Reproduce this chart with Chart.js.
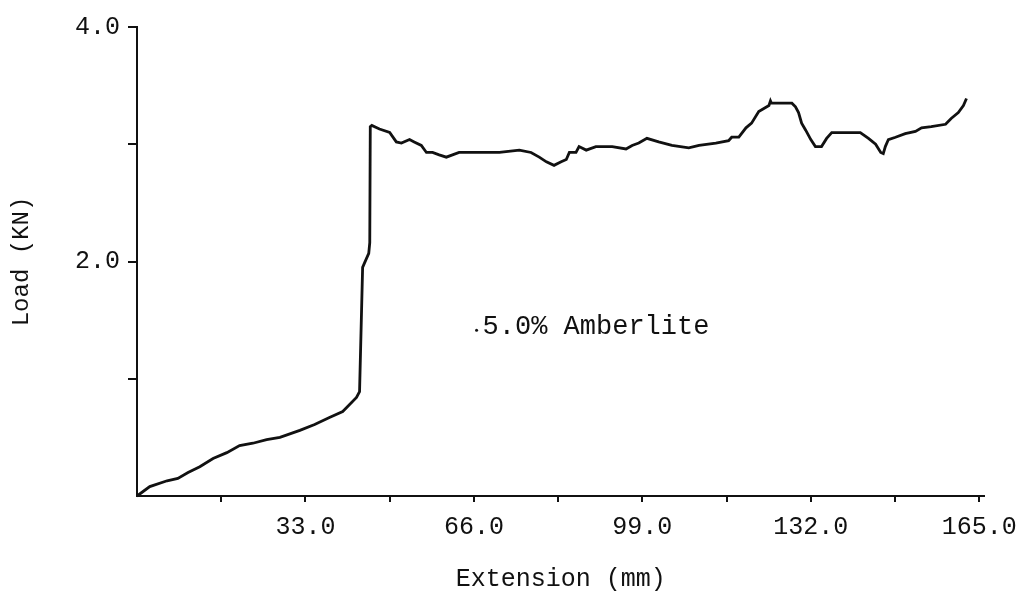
<!DOCTYPE html>
<html>
<head>
<meta charset="utf-8">
<script src="https://cdn.jsdelivr.net/npm/chart.js@4.4.1/dist/chart.umd.min.js"></script>
<style>
  body { margin: 0; background: #fff; }
</style>
</head>
<body>
<canvas id="loadChart" width="1027" height="594"></canvas>
<script>
// Extension (mm) and load (kN)
const extension = [
    0, 2.5, 5.9, 8.0, 10.0, 12.3, 14.9, 17.6, 20.1, 22.7, 25.4, 28.0, 31.9, 34.8, 37.7,
    40.3, 43.0, 43.6, 44.2, 44.6, 45.4, 45.6, 45.7, 46.0, 47.5, 49.5, 50.8, 51.8, 53.4,
    54.3, 55.7, 56.7, 57.9, 59.2, 60.6, 63.1, 67.1, 71.0, 74.9, 77.2, 78.8, 80.2, 81.7,
    83.1, 84.1, 84.7, 86.0, 86.6, 88.0, 89.9, 93.1, 95.8, 97.0, 98.3, 99.9, 102.2, 104.8,
    108.1, 110.1, 113.4, 115.9, 116.5, 117.9, 119.3, 120.4, 121.8, 123.8, 124.1, 124.3,
    127.1, 128.3, 129.0, 129.6, 130.2, 131.0, 132.0, 132.9, 134.1, 135.1, 136.1, 138.0,
    141.7, 143.3, 144.7, 145.7, 146.2, 146.6, 147.2, 148.6, 150.5, 152.5, 153.7, 155.6,
    158.4, 159.5, 160.9, 161.9, 162.5
];
const load = [
    0, 0.08, 0.13, 0.15, 0.20, 0.25, 0.32, 0.37, 0.43, 0.45, 0.48, 0.50, 0.56, 0.61, 0.67,
    0.72, 0.84, 0.89, 1.95, 1.99, 2.07, 2.16, 3.15, 3.16, 3.13, 3.10, 3.02, 3.01, 3.04,
    3.02, 2.99, 2.93, 2.93, 2.91, 2.89, 2.93, 2.93, 2.93, 2.95, 2.93, 2.89, 2.85, 2.82,
    2.85, 2.87, 2.93, 2.93, 2.98, 2.95, 2.98, 2.98, 2.96, 2.99, 3.01, 3.05, 3.02, 2.99,
    2.97, 2.99, 3.01, 3.03, 3.06, 3.06, 3.14, 3.18, 3.28, 3.33, 3.37, 3.35,
    3.35, 3.35, 3.32, 3.27, 3.18, 3.12, 3.04, 2.98, 2.98, 3.05, 3.10, 3.10,
    3.10, 3.05, 3.00, 2.93, 2.92, 2.98, 3.04, 3.06, 3.09, 3.11, 3.14, 3.15,
    3.17, 3.22, 3.27, 3.33, 3.39
];

const xLabelValues = [33, 66, 99, 132, 165];
const yLabelValues = [2, 4];
const noteText = '5.0% Amberlite';

const ink = '#111';
const mono = '"Liberation Mono", "DejaVu Sans Mono", monospace';

// the little text label inside the plot
const notePlugin = {
    id: 'note',
    afterDatasetsDraw(chart) {
        const { ctx, scales } = chart;
        const x = scales.x.getPixelForValue(67.7);
        const y = scales.y.getPixelForValue(1.44);
        ctx.save();
        ctx.fillStyle = ink;
        ctx.textBaseline = 'middle';
        ctx.font = '27px ' + mono;
        ctx.fillText(noteText, x, y);
        ctx.beginPath();
        ctx.arc(x - 6, y + 3, 1.5, 0, Math.PI * 2);
        ctx.fill();
        ctx.restore();
    }
};

const points = extension.map((v, i) => ({ x: v, y: load[i] }));

new Chart(document.getElementById('loadChart'), {
    type: 'scatter',
    data: {
        datasets: [{
            data: points,
            showLine: true,
            borderColor: ink,
            borderWidth: 2.8,
            pointRadius: 0,
            tension: 0,
            clip: false
        }]
    },
    options: {
        responsive: false,
        animation: false,
        layout: { padding: { top: 27, right: 41, left: 0, bottom: 0 } },
        plugins: { legend: { display: false }, tooltip: { enabled: false } },
        scales: {
            x: {
                type: 'linear',
                min: 0,
                max: 166,
                afterFit: s => { s.height = 98; },
                border: { color: ink, width: 2 },
                grid: {
                    drawOnChartArea: false,
                    tickLength: 6,
                    lineWidth: 2,
                    color: c => (c.tick && c.tick.value === 0) ? 'rgba(0,0,0,0)' : ink
                },
                ticks: {
                    stepSize: 16.5,
                    includeBounds: false,
                    autoSkip: false,
                    maxRotation: 0,
                    padding: 10,
                    color: ink,
                    font: { family: mono, size: 25 },
                    callback: v => xLabelValues.some(l => Math.abs(l - v) < 0.01) ? v.toFixed(1) : ''
                },
                title: {
                    display: true,
                    text: 'Extension (mm)',
                    color: ink,
                    font: { family: mono, size: 25 },
                    padding: { top: 0, bottom: 0 }
                }
            },
            y: {
                min: 0,
                max: 4,
                afterFit: s => { s.width = 137; },
                border: { color: ink, width: 2 },
                grid: {
                    drawOnChartArea: false,
                    tickLength: 9,
                    lineWidth: 2,
                    color: c => (c.tick && c.tick.value === 0) ? 'rgba(0,0,0,0)' : ink
                },
                ticks: {
                    stepSize: 1,
                    autoSkip: false,
                    padding: 8,
                    color: ink,
                    font: { family: mono, size: 25 },
                    callback: v => yLabelValues.includes(v) ? v.toFixed(1) : ''
                },
                title: {
                    display: true,
                    text: 'Load (KN)',
                    color: ink,
                    font: { family: mono, size: 24 },
                    padding: { top: 7, bottom: 0 }
                }
            }
        }
    },
    plugins: [notePlugin]
});
</script>
</body>
</html>
